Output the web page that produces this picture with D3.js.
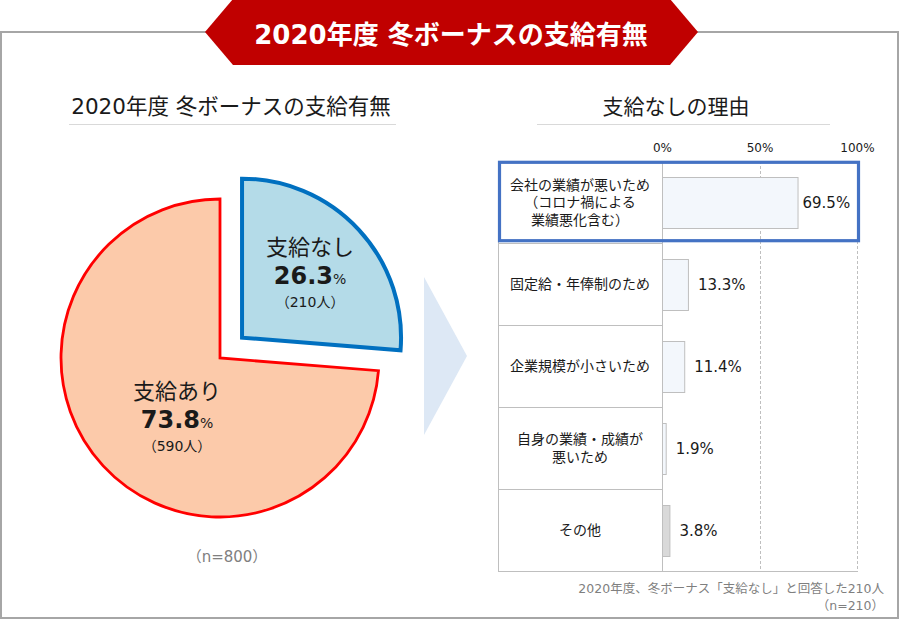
<!DOCTYPE html>
<html><head><meta charset="utf-8">
<script src="https://cdn.jsdelivr.net/npm/d3@7"></script>
<style>
html,body{margin:0;padding:0;background:#fff;}
svg{display:block;font-family:"DejaVu Sans","Noto Sans CJK JP",sans-serif;}
</style></head>
<body>
<svg id="chart" width="900" height="620"></svg>
<script>
// ---- data ----
const mainTitle = "2020年度 冬ボーナスの支給有無";
const pieTitle = "2020年度 冬ボーナスの支給有無";
const pieLabels = ["支給なし", "支給あり"];
const piePercents = [26.3, 73.8];
const pieCounts = [210, 590];
const pieNote = "（n=800）";

const barTitle = "支給なしの理由";
const barCategories = [
  "会社の業績が悪いため\n（コロナ禍による\n業績悪化含む）",
  "固定給・年俸制のため",
  "企業規模が小さいため",
  "自身の業績・成績が\n悪いため",
  "その他"
];
const barValues = [69.5, 13.3, 11.4, 1.9, 3.8];
const axisTicks = [0, 50, 100];
const barNote1 = "2020年度、冬ボーナス「支給なし」と回答した210人";
const barNote2 = "（n=210）";

// ---- drawing ----
const svg = d3.select("#chart");
const ink = "#1a1a1a";

// outer frame
svg.append("rect").attr("x",1).attr("y",32).attr("width",897).attr("height",586)
  .attr("fill","none").attr("stroke","#a6a6a6").attr("stroke-width",2);

// banner
const banner = [[205,32],[233,-1],[670,-1],[698,32],[670,65],[233,65]];
svg.append("polygon").attr("points",banner.map(p=>p.join(",")).join(" ")).attr("fill","#c00000");
svg.append("text").attr("x",451).attr("y",44).attr("text-anchor","middle")
  .attr("fill","#fff").attr("font-size",26).attr("font-weight","bold").text(mainTitle);

// left title
svg.append("text").attr("x",231).attr("y",114).attr("text-anchor","middle")
  .attr("fill",ink).attr("font-size",21.5).text(pieTitle);
svg.append("line").attr("x1",69).attr("x2",396).attr("y1",124.5).attr("y2",124.5)
  .attr("stroke","#d9d9d9").attr("stroke-width",1.2);

// right title
svg.append("text").attr("x",676).attr("y",114).attr("text-anchor","middle")
  .attr("fill",ink).attr("font-size",21).text(barTitle);
svg.append("line").attr("x1",537).attr("x2",830).attr("y1",124.5).attr("y2",124.5)
  .attr("stroke","#d9d9d9").attr("stroke-width",1.2);

// ---- pie ----
const cx = 220, cy = 358, R = 159, explode = 30;
const pie = d3.pie().sort(null).value(d=>d)(piePercents);
const arc = d3.arc().innerRadius(0).outerRadius(R);
const fills = ["#b4dbe8", "#fccaaa"];
const strokes = ["#0070c0", "#ff0000"];
const strokeW = [4, 2.8];
// label anchor offsets from each slice's own centre (layout only)
const labelOffset = [[68,-54],[-43,70]];

const slices = pie.map((d,i)=>{
  const mid = (d.startAngle + d.endAngle)/2;
  const off = i===0 ? explode : 0;
  return {d, i, mid, ox: cx + off*Math.sin(mid), oy: cy - off*Math.cos(mid)};
});
slices.slice().reverse().forEach(s=>{
  svg.append("path").attr("d", arc(s.d))
    .attr("transform",`translate(${s.ox},${s.oy})`)
    .attr("fill",fills[s.i]).attr("stroke",strokes[s.i]).attr("stroke-width",strokeW[s.i])
    .attr("stroke-linejoin","miter");
});
slices.forEach(s=>{
  const lx = s.ox + labelOffset[s.i][0];
  const ly = s.oy + labelOffset[s.i][1];
  const g = svg.append("g").attr("transform",`translate(${lx},${ly})`);
  g.append("text").attr("y",-29).attr("text-anchor","middle").attr("font-size",22)
    .attr("fill",ink).text(pieLabels[s.i]);
  const t = g.append("text").attr("y",0).attr("text-anchor","middle").attr("fill",ink);
  t.append("tspan").attr("font-size",24).attr("font-weight","bold").text(piePercents[s.i].toFixed(1));
  t.append("tspan").attr("font-size",14).text("%");
  g.append("text").attr("y",23).attr("text-anchor","middle").attr("font-size",14)
    .attr("fill",ink).text(`（${pieCounts[s.i]}人）`);
});
svg.append("text").attr("x",227).attr("y",562).attr("text-anchor","middle")
  .attr("font-size",15).attr("fill","#808080").text(pieNote);

// arrow
svg.append("polygon").attr("points","424,277 467,356 424,435").attr("fill","#dde8f5");

// ---- bars ----
const tableLeft = 498;
const x = d3.scaleLinear().domain([0,100]).range([662,857]);
const y = d3.scaleBand().domain(barCategories).range([161,571]).paddingInner(0).paddingOuter(0);
const gridColor = "#bfbfbf";

axisTicks.filter(t=>t>0).forEach(t=>{
  svg.append("line").attr("x1",Math.round(x(t))+0.5).attr("x2",Math.round(x(t))+0.5)
    .attr("y1",161).attr("y2",571).attr("stroke",gridColor).attr("stroke-dasharray","3,2");
});
svg.append("line").attr("x1",tableLeft+0.5).attr("x2",tableLeft+0.5).attr("y1",161).attr("y2",571.5).attr("stroke",gridColor);
svg.append("line").attr("x1",x(0)+0.5).attr("x2",x(0)+0.5).attr("y1",161).attr("y2",571.5).attr("stroke",gridColor);
barCategories.forEach((c,i)=>{
  if(i>0) svg.append("line").attr("x1",tableLeft).attr("x2",x(0)).attr("y1",Math.round(y(c))+0.5).attr("y2",Math.round(y(c))+0.5).attr("stroke",gridColor);
});
svg.append("line").attr("x1",tableLeft).attr("x2",x(100)+1).attr("y1",571.5).attr("y2",571.5).attr("stroke",gridColor);
svg.append("line").attr("x1",tableLeft).attr("x2",x(0)).attr("y1",161.5).attr("y2",161.5).attr("stroke",gridColor);

const axis = d3.axisTop(x).tickValues(axisTicks).tickFormat(d=>d+"%").tickSize(0);
const ag = svg.append("g").attr("transform","translate(0,155)").call(axis);
ag.select(".domain").remove();
ag.selectAll("text").attr("font-size",12).attr("fill",ink)
  .attr("font-family","'DejaVu Sans','Noto Sans CJK JP',sans-serif").attr("dy",0);

const barH = 51;
barCategories.forEach((c,i)=>{
  const yc = y(c) + y.bandwidth()/2;
  svg.append("rect").attr("x",x(0)+0.5).attr("y",Math.round(yc-barH/2)+0.5)
    .attr("width",x(barValues[i])-x(0)).attr("height",barH)
    .attr("fill", i===barCategories.length-1 ? "#d9d9d9" : "#f3f7fc")
    .attr("stroke","#bfbfbf").attr("stroke-width",1);
  svg.append("text").attr("x",x(barValues[i]) + (i===0?5:10)).attr("y",yc+5.5)
    .attr("font-size",15).attr("fill",ink).text(barValues[i].toFixed(1)+"%");
  const lines = c.split("\n");
  const lh = 17.5;
  const t = svg.append("text").attr("text-anchor","middle").attr("font-size",14).attr("fill",ink);
  lines.forEach((ln,k)=>{
    t.append("tspan").attr("x",(tableLeft+x(0))/2)
      .attr("y", yc + 5 + (k-(lines.length-1)/2)*lh).text(ln);
  });
});

svg.append("rect").attr("x",499.5).attr("y",162.3).attr("width",359).attr("height",78.4)
  .attr("fill","none").attr("stroke","#4472c4").attr("stroke-width",3.2);

svg.append("text").attr("x",884).attr("y",593).attr("text-anchor","end")
  .attr("font-size",12.5).attr("fill","#7f7f7f").text(barNote1);
svg.append("text").attr("x",884).attr("y",610).attr("text-anchor","end")
  .attr("font-size",12.5).attr("fill","#7f7f7f").text(barNote2);
</script>
</body></html>
